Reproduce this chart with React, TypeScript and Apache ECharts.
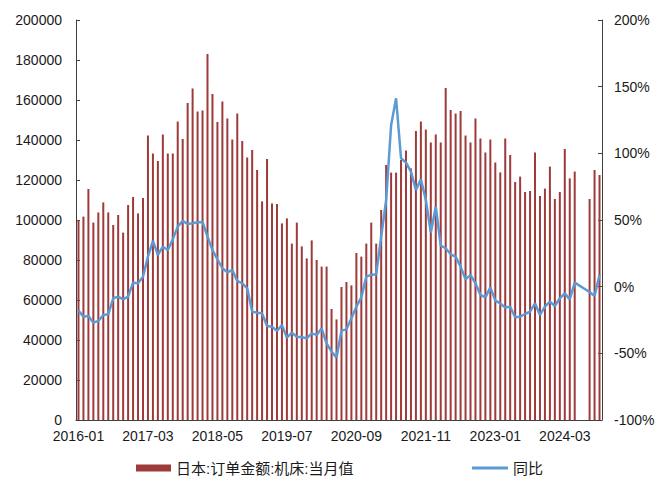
import React, { useEffect, useRef } from "react";
import * as echarts from "echarts";

const startYear = 2016;
const monthCount = 106;
const categories: string[] = Array.from({ length: monthCount }, (_, i) => {
  const y = startYear + Math.floor(i / 12);
  const m = (i % 12) + 1;
  return `${y}-${m < 10 ? "0" + m : m}`;
});

const barName = "日本:订单金额:机床:当月值";
const lineName = "同比";

const orders: (number | null)[] = [
  100000, 101700, 115500, 98700, 103800, 108800, 103800, 97500, 102500, 93700, 107500, 111500,
  103300, 111000, 142300, 133300, 129500, 142700, 133300, 133300, 149200, 140500, 158500, 165800,
  154200, 154800, 183000, 163000, 149000, 159300, 150800, 140300, 153300, 139500, 131300, 135000,
  125000, 109300, 130500, 108300, 108000, 98300, 100800, 88200, 98700, 86800, 80800, 89800,
  80000, 76700, 76700, 55500, 50300, 66500, 69000, 67300, 83500, 81700, 88200, 98700,
  88200, 105000, 127500, 123700, 123700, 130000, 134700, 125800, 144500, 149200, 145300, 138800,
  142800, 138800, 166000, 155000, 153300, 154500, 142300, 138800, 150800, 140800, 133700, 140300,
  128800, 123800, 140700, 132500, 119000, 121700, 114000, 114500, 133800, 112000, 115700, 126700,
  110500, 114000, 135500, 120800, 124200, null, null, 110500, 125000, 122500,
];

const yoy: (number | null)[] = [
  -18, -22.5, -22, -27, -25.7, -21.2, -20.7, -8.7, -7.5, -9.5, -7.5, 3,
  2.5, 7.5, 22.5, 34.3, 23.8, 30, 27.5, 35.5, 45, 49.3, 47, 47.5,
  48.3, 48.5, 37.5, 27.5, 20.5, 13.8, 10.8, 12.5, 4.3, 2.5, -1.2, -18.7,
  -19.5, -20, -29.5, -30, -33.2, -28.7, -38.2, -34.5, -37.5, -38, -38.7, -35,
  -36.2, -31.2, -42.5, -48.7, -53.2, -33, -32, -23.7, -15, -8, 7.5, 8.8,
  9.3, 37.5, 65, 121, 141.3, 96.3, 93, 86.3, 72.5, 80.5, 65, 40.5,
  60, 30.8, 28.8, 24.3, 22.5, 15, 5.5, 8.8, 2.5, -6.2, -8, -0.5,
  -10.5, -12.5, -15.7, -15, -23, -22.5, -20.5, -18.7, -12.5, -21.2, -15, -11.2,
  -14.5, -8.7, -5, -9.5, 3, null, null, -4, -7, 8.8,
];

const FONT = "'Liberation Sans', Arial, 'Noto Sans CJK SC', sans-serif";
const TEXT = "#1a1a1a";
const AXIS = "#404040";

export default function App() {
  const ref = useRef<HTMLDivElement>(null);
  useEffect(() => {
    if (!ref.current) return;
    const chart = echarts.init(ref.current, undefined, { renderer: "svg" });
    chart.setOption({
      animation: false,
      textStyle: { fontFamily: FONT },
      grid: { left: 76, right: 70, top: 20, bottom: 59, containLabel: false },
      legend: [
        {
          data: [barName],
          left: 136,
          top: 459,
          itemWidth: 35,
          itemHeight: 7,
          icon: "rect",
          padding: 0,
          textStyle: { fontSize: 15, color: TEXT, fontFamily: FONT, lineHeight: 18 },
        },
        {
          data: [lineName],
          left: 472,
          top: 459,
          itemWidth: 36,
          itemHeight: 3,
          icon: "rect",
          padding: 0,
          textStyle: { fontSize: 15, color: TEXT, fontFamily: FONT, lineHeight: 18 },
        },
      ],
      xAxis: {
        type: "category",
        data: categories,
        boundaryGap: true,
        axisLine: { lineStyle: { color: AXIS, width: 1 } },
        axisTick: { inside: true, length: 4, interval: 13, lineStyle: { color: AXIS } },
        axisLabel: { interval: 13, fontSize: 14, color: TEXT, margin: 9, fontFamily: FONT },
        splitLine: { show: false },
      },
      yAxis: [
        {
          type: "value",
          min: 0,
          max: 200000,
          interval: 20000,
          axisLine: { show: true, lineStyle: { color: AXIS } },
          axisTick: { show: true, inside: true, length: 4, lineStyle: { color: AXIS } },
          axisLabel: {
            fontSize: 14,
            color: TEXT,
            margin: 14,
            fontFamily: FONT,
            formatter: (v: number) => String(v),
          },
          splitLine: { show: false },
        },
        {
          type: "value",
          position: "right",
          min: -100,
          max: 200,
          interval: 50,
          axisLine: { show: true, lineStyle: { color: AXIS } },
          axisTick: { show: true, inside: true, length: 4, lineStyle: { color: AXIS } },
          axisLabel: {
            fontSize: 14,
            color: TEXT,
            margin: 12,
            fontFamily: FONT,
            formatter: (v: number) => `${v}%`,
          },
          splitLine: { show: false },
        },
      ],
      series: [
        {
          name: barName,
          type: "bar",
          data: orders,
          barWidth: 2,
          itemStyle: { color: "#9E3A3A" },
          yAxisIndex: 0,
        },
        {
          name: lineName,
          type: "line",
          data: yoy,
          yAxisIndex: 1,
          symbol: "none",
          connectNulls: true,
          lineStyle: { color: "#5B9BD5", width: 2.5 },
          itemStyle: { color: "#5B9BD5" },
        },
      ],
    });
    return () => chart.dispose();
  }, []);
  return (
    <div
      ref={ref}
      style={{ position: "fixed", left: 0, top: 0, width: 672, height: 479, background: "#fff" }}
    />
  );
}
